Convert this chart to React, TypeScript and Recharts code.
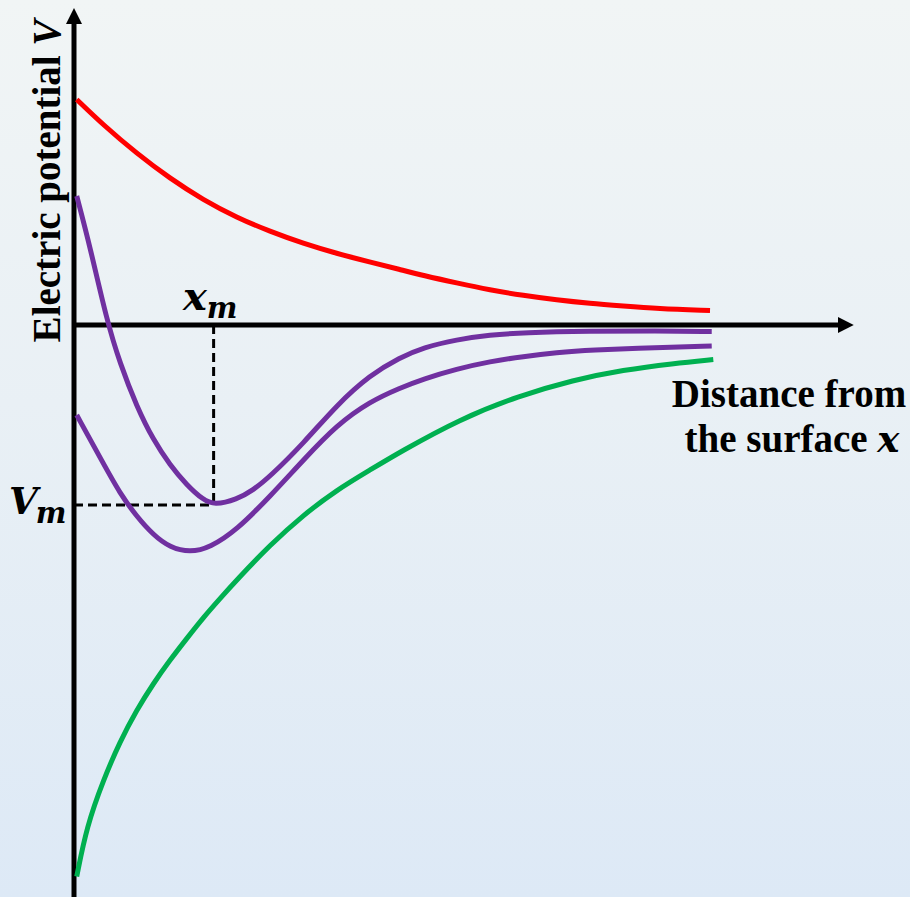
import React from 'react';
import { ComposedChart, Line, ReferenceLine, XAxis, YAxis } from 'recharts';

// distance x (arbitrary units) vs electric potential V (arbitrary units)
const redCurve = [
  { d: 0.035, v: 4.51 },
  { d: 0.376, v: 4.0 },
  { d: 0.804, v: 3.43 },
  { d: 1.231, v: 2.93 },
  { d: 1.658, v: 2.5 },
  { d: 2.086, v: 2.15 },
  { d: 2.513, v: 1.87 },
  { d: 2.94, v: 1.63 },
  { d: 3.368, v: 1.43 },
  { d: 3.795, v: 1.26 },
  { d: 4.179, v: 1.11 },
  { d: 4.478, v: 0.99 },
  { d: 4.906, v: 0.84 },
  { d: 5.333, v: 0.7 },
  { d: 5.76, v: 0.59 },
  { d: 6.188, v: 0.5 },
  { d: 6.615, v: 0.43 },
  { d: 7.042, v: 0.38 },
  { d: 7.471, v: 0.33 },
  { d: 8.154, v: 0.29 },
];

const purpleUpper = [
  { d: 0.035, v: 2.58 },
  { d: 0.205, v: 1.57 },
  { d: 0.419, v: 0.1 },
  { d: 0.59, v: -0.77 },
  { d: 0.804, v: -1.63 },
  { d: 1.017, v: -2.3 },
  { d: 1.231, v: -2.8 },
  { d: 1.445, v: -3.2 },
  { d: 1.658, v: -3.5 },
  { d: 1.8, v: -3.6 },
  { d: 2.086, v: -3.49 },
  { d: 2.299, v: -3.3 },
  { d: 2.513, v: -3.03 },
  { d: 2.94, v: -2.37 },
  { d: 3.368, v: -1.6 },
  { d: 3.795, v: -1.0 },
  { d: 4.179, v: -0.65 },
  { d: 4.478, v: -0.45 },
  { d: 4.906, v: -0.29 },
  { d: 5.333, v: -0.2 },
  { d: 5.76, v: -0.15 },
  { d: 6.615, v: -0.12 },
  { d: 7.471, v: -0.12 },
  { d: 8.176, v: -0.13 },
];

const purpleLower = [
  { d: 0.035, v: -1.8 },
  { d: 0.376, v: -2.77 },
  { d: 0.59, v: -3.37 },
  { d: 0.804, v: -3.83 },
  { d: 1.017, v: -4.2 },
  { d: 1.231, v: -4.45 },
  { d: 1.487, v: -4.55 },
  { d: 1.744, v: -4.45 },
  { d: 2.086, v: -4.1 },
  { d: 2.513, v: -3.43 },
  { d: 2.94, v: -2.7 },
  { d: 3.368, v: -2.0 },
  { d: 3.795, v: -1.53 },
  { d: 4.179, v: -1.26 },
  { d: 4.478, v: -1.08 },
  { d: 4.906, v: -0.88 },
  { d: 5.333, v: -0.73 },
  { d: 5.76, v: -0.63 },
  { d: 6.188, v: -0.55 },
  { d: 6.615, v: -0.5 },
  { d: 7.471, v: -0.45 },
  { d: 8.176, v: -0.42 },
];

const greenCurve = [
  { d: 0.035, v: -11.03 },
  { d: 0.163, v: -10.03 },
  { d: 0.376, v: -9.1 },
  { d: 0.59, v: -8.33 },
  { d: 0.804, v: -7.7 },
  { d: 1.017, v: -7.17 },
  { d: 1.231, v: -6.7 },
  { d: 1.445, v: -6.27 },
  { d: 1.658, v: -5.85 },
  { d: 1.872, v: -5.47 },
  { d: 2.086, v: -5.1 },
  { d: 2.513, v: -4.4 },
  { d: 2.94, v: -3.8 },
  { d: 3.368, v: -3.3 },
  { d: 3.795, v: -2.9 },
  { d: 4.179, v: -2.54 },
  { d: 4.949, v: -1.88 },
  { d: 5.7, v: -1.42 },
  { d: 6.401, v: -1.1 },
  { d: 7.042, v: -0.9 },
  { d: 7.683, v: -0.77 },
  { d: 8.196, v: -0.69 },
];

const xm = 1.79;
const Vm = -3.6;

const serif = "'Liberation Serif', 'Times New Roman', serif";
const math = "'DejaVu Serif', serif";

export default function App() {
  return (
    <div
      style={{
        position: 'absolute',
        left: 0,
        top: 0,
        width: 910,
        height: 897,
        background: 'linear-gradient(to bottom, #f1f5f5 0%, #e9f0f5 45%, #dde9f6 100%)',
      }}
    >
      <ComposedChart width={910} height={897} margin={{ top: 0, right: 56, bottom: 0, left: 74 }}>
        <defs>
          <marker
            id='arrow'
            markerUnits='userSpaceOnUse'
            markerWidth={17}
            markerHeight={17}
            refX={10}
            refY={8}
            orient='auto'
          >
            <path d='M0,0 L16,8 L0,16 z' fill='#000' />
          </marker>
        </defs>
        <XAxis dataKey='d' type='number' domain={[0, 10]} hide />
        <YAxis dataKey='v' type='number' domain={[-11.44, 6.5]} hide />

        {/* axes */}
        <ReferenceLine
          segment={[
            { x: 0, y: -11.44 },
            { x: 0, y: 6.22 },
          ]}
          stroke='#000'
          strokeWidth={5}
          markerEnd='url(#arrow)'
        />
        <ReferenceLine
          segment={[
            { x: 0, y: 0 },
            { x: 9.92, y: 0 },
          ]}
          stroke='#000'
          strokeWidth={5}
          markerEnd='url(#arrow)'
        />

        {/* x_m / V_m guides */}
        <ReferenceLine
          segment={[
            { x: xm, y: 0 },
            { x: xm, y: Vm },
          ]}
          stroke='#000'
          strokeWidth={3}
          strokeDasharray='9 5'
        />
        <ReferenceLine
          segment={[
            { x: 0, y: Vm },
            { x: xm, y: Vm },
          ]}
          stroke='#000'
          strokeWidth={3}
          strokeDasharray='9 5'
        />

        <Line data={redCurve} dataKey='v' type='basis' stroke='#ff0000' strokeWidth={5} dot={false} activeDot={false} isAnimationActive={false} />
        <Line data={purpleUpper} dataKey='v' type='basis' stroke='#7030a0' strokeWidth={5} dot={false} activeDot={false} isAnimationActive={false} />
        <Line data={purpleLower} dataKey='v' type='basis' stroke='#7030a0' strokeWidth={5} dot={false} activeDot={false} isAnimationActive={false} />
        <Line data={greenCurve} dataKey='v' type='basis' stroke='#00b050' strokeWidth={5} dot={false} activeDot={false} isAnimationActive={false} />

        {/* labels */}
        <text
          x={60}
          y={181}
          transform='rotate(-90 60 181)'
          textAnchor='middle'
          fontFamily={serif}
          fontWeight='bold'
          fontSize={39}
          fill='#000'
        >
          Electric potential <tspan fontStyle='italic'>V</tspan>
        </text>
        <text x={789} y={407} textAnchor='middle' fontFamily={serif} fontWeight='bold' fontSize={39} fill='#000'>
          Distance from
        </text>
        <text x={792} y={452} textAnchor='middle' fontFamily={serif} fontWeight='bold' fontSize={39} fill='#000'>
          the surface <tspan fontFamily={math} fontStyle='italic' fontSize={37}>x</tspan>
        </text>
        <text x={183} y={310} fontFamily={math} fontWeight='bold' fontStyle='italic' fontSize={40} fill='#000'>
          x
          <tspan dy={8} fontSize={29}>
            m
          </tspan>
        </text>
        <text x={9} y={514} fontFamily={math} fontWeight='bold' fontStyle='italic' fontSize={37} fill='#000'>
          V
          <tspan dx={-2} dy={9} fontSize={29}>
            m
          </tspan>
        </text>
      </ComposedChart>
    </div>
  );
}
